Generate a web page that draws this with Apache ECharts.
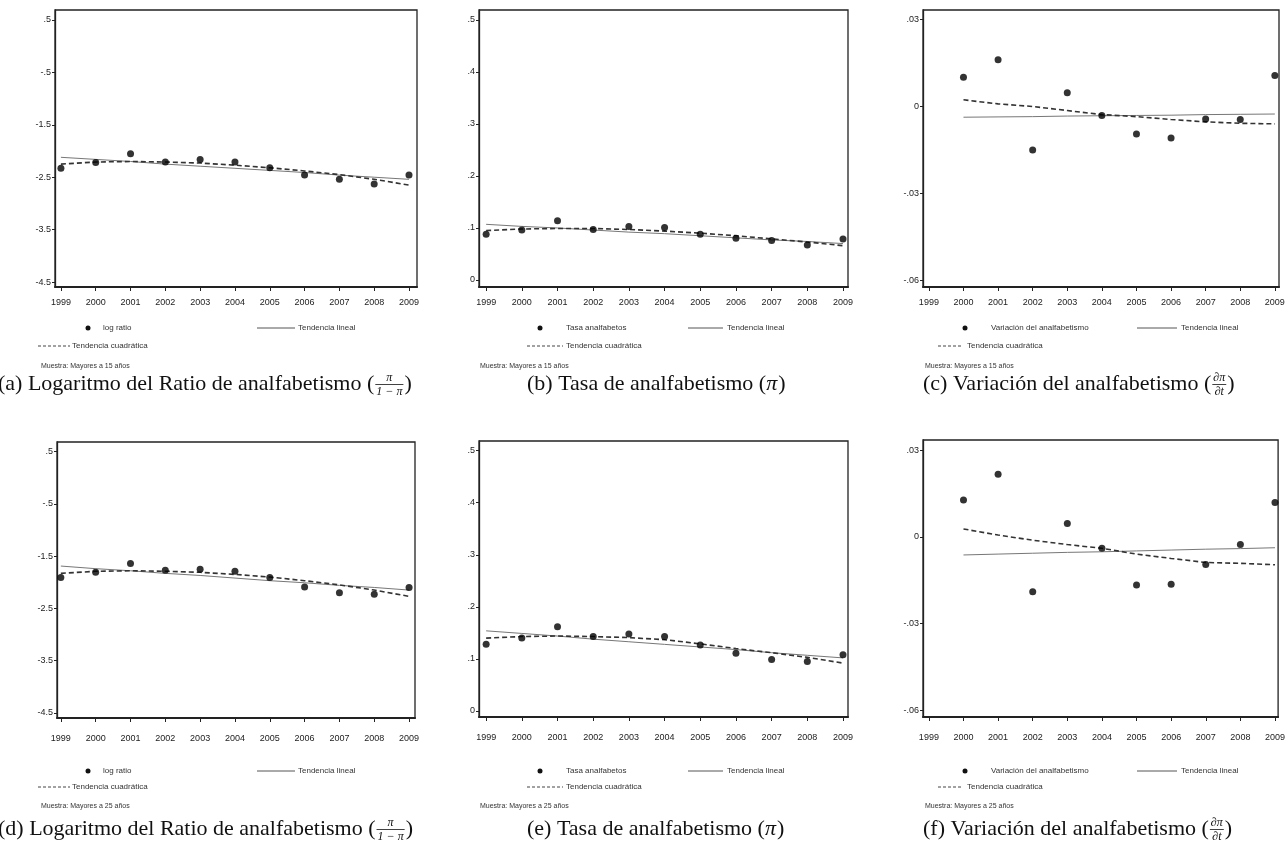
<!DOCTYPE html>
<html>
<head>
<meta charset="utf-8">
<script src="https://cdn.jsdelivr.net/npm/echarts@6/dist/echarts.min.js"></script>
<style>
html,body{margin:0;padding:0;background:#fff;}
#chart{width:1288px;height:855px;}
</style>
</head>
<body>
<div id="chart"></div>
<script>
// ---------------- DATA ----------------
const years = [1999, 2000, 2001, 2002, 2003, 2004, 2005, 2006, 2007, 2008, 2009];

const yTicksLog = [-4.5, -3.5, -2.5, -1.5, -0.5, 0.5];
const yLabelsLog = ['-4.5', '-3.5', '-2.5', '-1.5', '-.5', '.5'];
const yTicksTasa = [0, 0.1, 0.2, 0.3, 0.4, 0.5];
const yLabelsTasa = ['0', '.1', '.2', '.3', '.4', '.5'];
const yTicksVar = [-0.06, -0.03, 0, 0.03];
const yLabelsVar = ['-.06', '-.03', '0', '.03'];

// (a) Mayores a 15 años – log ratio
const logRatio15 = [-2.33, -2.22, -2.05, -2.21, -2.16, -2.21, -2.32, -2.46, -2.54, -2.63, -2.46];
const logRatio15Lin = [-2.12, -2.16, -2.20, -2.25, -2.29, -2.33, -2.37, -2.41, -2.46, -2.50, -2.54];
const logRatio15Quad = [-2.25, -2.21, -2.20, -2.21, -2.23, -2.27, -2.32, -2.38, -2.45, -2.54, -2.65];
// (b) Mayores a 15 años – tasa
const tasa15 = [0.088, 0.096, 0.114, 0.097, 0.103, 0.101, 0.088, 0.080, 0.076, 0.067, 0.079];
const tasa15Lin = [0.107, 0.103, 0.100, 0.096, 0.092, 0.089, 0.085, 0.081, 0.077, 0.074, 0.070];
const tasa15Quad = [0.095, 0.098, 0.099, 0.099, 0.097, 0.094, 0.090, 0.085, 0.079, 0.073, 0.066];
// (c) Mayores a 15 años – variación
const var15 = [null, 0.0100, 0.0160, -0.0151, 0.0046, -0.0032, -0.0096, -0.0110, -0.0044, -0.0046, 0.0106];
const var15Lin = [null, -0.0038, -0.0037, -0.0036, -0.0034, -0.0033, -0.0032, -0.0031, -0.0029, -0.0028, -0.0027];
const var15Quad = [null, 0.0022, 0.0008, -0.0001, -0.0015, -0.0029, -0.0036, -0.0046, -0.0054, -0.0059, -0.0061];
// (d) Mayores a 25 años – log ratio
const logRatio25 = [-1.91, -1.81, -1.64, -1.77, -1.75, -1.79, -1.91, -2.09, -2.20, -2.23, -2.10];
const logRatio25Lin = [-1.69, -1.74, -1.78, -1.83, -1.87, -1.92, -1.97, -2.01, -2.06, -2.10, -2.15];
const logRatio25Quad = [-1.83, -1.79, -1.78, -1.79, -1.81, -1.85, -1.90, -1.97, -2.05, -2.15, -2.27];
// (e) Mayores a 25 años – tasa
const tasa25 = [0.128, 0.140, 0.162, 0.143, 0.148, 0.143, 0.127, 0.111, 0.099, 0.095, 0.108];
const tasa25Lin = [0.154, 0.149, 0.144, 0.138, 0.133, 0.128, 0.123, 0.118, 0.112, 0.107, 0.102];
const tasa25Quad = [0.140, 0.143, 0.144, 0.143, 0.141, 0.137, 0.129, 0.120, 0.112, 0.103, 0.092];
// (f) Mayores a 25 años – variación
const var25 = [null, 0.0127, 0.0216, -0.0190, 0.0046, -0.0040, -0.0167, -0.0164, -0.0096, -0.0027, 0.0119];
const var25Lin = [null, -0.0063, -0.0060, -0.0057, -0.0054, -0.0052, -0.0049, -0.0046, -0.0043, -0.0041, -0.0038];
const var25Quad = [null, 0.0027, 0.0006, -0.0012, -0.0027, -0.0040, -0.0060, -0.0075, -0.0089, -0.0092, -0.0097];

const nameLog = 'log ratio';
const nameTasa = 'Tasa analfabetos';
const nameVar = 'Variación del analfabetismo';
const nameLin = 'Tendencia lineal';
const nameQuad = 'Tendencia cuadrática';
const muestra15 = 'Muestra: Mayores a 15 años';
const muestra25 = 'Muestra: Mayores a 25 años';

// ---------------- LAYOUT ----------------
const NARROW = '"Liberation Sans Narrow", "Liberation Sans", Arial, sans-serif';
const SERIF = '"Liberation Serif", "Times New Roman", serif';
const INK = '#222';

const panels = [
  { grid: {left: 55, top: 10, width: 362, height: 277}, xr: [1998.83, 2009.23], yr: [-4.595, 0.691], lm: 11,
    ticks: yTicksLog, labels: yLabelsLog, pts: logRatio15, lin: logRatio15Lin, quad: logRatio15Quad, name: nameLog },
  { grid: {left: 479, top: 10, width: 369, height: 277}, xr: [1998.80, 2009.14], yr: [-0.0135, 0.519], lm: 11,
    ticks: yTicksTasa, labels: yLabelsTasa, pts: tasa15, lin: tasa15Lin, quad: tasa15Quad, name: nameTasa },
  { grid: {left: 923, top: 10, width: 356, height: 277}, xr: [1998.83, 2009.12], yr: [-0.0624, 0.0332], lm: 11,
    ticks: yTicksVar, labels: yLabelsVar, pts: var15, lin: var15Lin, quad: var15Quad, name: nameVar },
  { grid: {left: 57, top: 442, width: 358, height: 276}, xr: [1998.89, 2009.17], yr: [-4.60, 0.686], lm: 16,
    ticks: yTicksLog, labels: yLabelsLog, pts: logRatio25, lin: logRatio25Lin, quad: logRatio25Quad, name: nameLog },
  { grid: {left: 479, top: 441, width: 369, height: 276}, xr: [1998.80, 2009.14], yr: [-0.0115, 0.5186], lm: 16,
    ticks: yTicksTasa, labels: yLabelsTasa, pts: tasa25, lin: tasa25Lin, quad: tasa25Quad, name: nameTasa },
  { grid: {left: 923, top: 440, width: 356, height: 277}, xr: [1998.83, 2009.09], yr: [-0.0624, 0.0335], lm: 16,
    ticks: yTicksVar, labels: yLabelsVar, pts: var25, lin: var25Lin, quad: var25Quad, name: nameVar }
];

function pairs(vals) {
  const out = [];
  years.forEach((y, i) => { if (vals[i] !== null && vals[i] !== undefined) out.push([y, vals[i]]); });
  return out;
}

const grids = [], xAxes = [], yAxes = [], series = [];
panels.forEach((p, k) => {
  grids.push(Object.assign({show: true, borderColor: INK, borderWidth: 1.3, backgroundColor: '#fff'}, p.grid));
  xAxes.push({
    gridIndex: k, type: 'value', min: p.xr[0], max: p.xr[1],
    axisLine: {show: true, onZero: false, lineStyle: {color: INK, width: 2}},
    axisTick: {show: true, customValues: years, length: 4, lineStyle: {color: INK, width: 1}},
    axisLabel: {customValues: years, formatter: v => String(Math.round(v)), fontSize: 9, fontFamily: NARROW, color: '#222', margin: p.lm},
    splitLine: {show: false}
  });
  yAxes.push({
    gridIndex: k, type: 'value', min: p.yr[0], max: p.yr[1],
    axisLine: {show: true, onZero: false, lineStyle: {color: INK, width: 1.3}},
    axisTick: {show: true, customValues: p.ticks, length: 3, lineStyle: {color: INK, width: 1}},
    axisLabel: {
      customValues: p.ticks, fontSize: 9, fontFamily: NARROW, color: '#222', margin: 4,
      formatter: v => { const i = p.ticks.findIndex(t => Math.abs(t - v) < 1e-9); return i >= 0 ? p.labels[i] : ''; }
    },
    splitLine: {show: false}
  });
  series.push({
    name: p.name, type: 'scatter', xAxisIndex: k, yAxisIndex: k, data: pairs(p.pts),
    symbol: 'circle', symbolSize: 7, itemStyle: {color: '#000'}, z: 5
  });
  series.push({
    name: nameLin, type: 'line', xAxisIndex: k, yAxisIndex: k, data: pairs(p.lin),
    showSymbol: false, lineStyle: {color: '#777', width: 1}, z: 3
  });
  series.push({
    name: nameQuad, type: 'line', xAxisIndex: k, yAxisIndex: k, data: pairs(p.quad),
    showSymbol: false, lineStyle: {color: '#333', width: 1.6, type: [5, 3]}, z: 4
  });
});

// ---------------- legends / notes / captions (graphics) ----------------
const g = [];
const legFont = '8px ' + NARROW;
function txt(x, y, s, font, align, fill) {
  g.push({type: 'text', x: x, y: y, silent: true,
    style: {text: s, font: font, fill: fill || '#333', textAlign: align || 'left', textVerticalAlign: 'middle'}});
}
function seg(x1, x2, y, dash, color, w) {
  g.push({type: 'line', silent: true, shape: {x1: x1, y1: y, x2: x2, y2: y},
    style: {stroke: color, lineWidth: w, lineDash: dash || null}});
}
function dot(x, y) {
  g.push({type: 'circle', silent: true, shape: {cx: x, cy: y, r: 2.5}, style: {fill: '#111'}});
}
const legendLayout = [
  {row: [328, 346, 366], dot: 88, txt1: 103, lin: [257, 295], txt2: 298, dash: [38, 70], txt3: 72, note: 41, name: nameLog, m: muestra15},
  {row: [328, 346, 366], dot: 540, txt1: 566, lin: [688, 723], txt2: 727, dash: [527, 563], txt3: 566, note: 480, name: nameTasa, m: muestra15},
  {row: [328, 346, 366], dot: 965, txt1: 991, lin: [1137, 1177], txt2: 1181, dash: [938, 963], txt3: 967, note: 925, name: nameVar, m: muestra15},
  {row: [771, 787, 806], dot: 88, txt1: 103, lin: [257, 295], txt2: 298, dash: [38, 70], txt3: 72, note: 41, name: nameLog, m: muestra25},
  {row: [771, 787, 806], dot: 540, txt1: 566, lin: [688, 723], txt2: 727, dash: [527, 563], txt3: 566, note: 480, name: nameTasa, m: muestra25},
  {row: [771, 787, 806], dot: 965, txt1: 991, lin: [1137, 1177], txt2: 1181, dash: [938, 963], txt3: 967, note: 925, name: nameVar, m: muestra25}
];
legendLayout.forEach(L => {
  dot(L.dot, L.row[0]);
  txt(L.txt1, L.row[0], L.name, legFont);
  seg(L.lin[0], L.lin[1], L.row[0], null, '#555', 1);
  txt(L.txt2, L.row[0], nameLin, legFont);
  seg(L.dash[0], L.dash[1], L.row[1], [3, 2], '#444', 1);
  txt(L.txt3, L.row[1], nameQuad, legFont);
  txt(L.note, L.row[2], L.m, '7px ' + NARROW);
});

// captions
const CAP = 22;
const CAPC = '#111';
const capFont = CAP + 'px ' + SERIF;
const fracFont = 'italic 12px ' + SERIF;
const meas = document.createElement('canvas').getContext('2d');
function width(s, font) { meas.font = font; return meas.measureText(s).width; }
function captionFrac(x, y, prefix, num, den) {
  txt(x, y, prefix, capFont, 'left', CAPC);
  const fx = x + width(prefix, capFont) + 1;
  const fw = Math.max(width(num, fracFont), width(den, fracFont)) + 2;
  g.push({type: 'text', x: fx + fw / 2, y: y - 6, silent: true,
    style: {text: num, font: fracFont, fill: CAPC, textAlign: 'center', textVerticalAlign: 'middle'}});
  seg(fx, fx + fw, y + 0.5, null, CAPC, 0.8);
  g.push({type: 'text', x: fx + fw / 2, y: y + 7.5, silent: true,
    style: {text: den, font: fracFont, fill: CAPC, textAlign: 'center', textVerticalAlign: 'middle'}});
  txt(fx + fw + 1, y, ')', capFont, 'left', CAPC);
}
function captionPi(x, y, prefix) {
  txt(x, y, prefix, capFont, 'left', CAPC);
  const px = x + width(prefix, capFont);
  const piFont = 'italic ' + CAP + 'px ' + SERIF;
  txt(px, y, 'π', piFont, 'left', CAPC);
  txt(px + width('π', piFont) + 1, y, ')', capFont, 'left', CAPC);
}
captionFrac(-2, 384, '(a) Logaritmo del Ratio de analfabetismo (', 'π', '1 − π');
captionPi(527, 384, '(b) Tasa de analfabetismo (');
captionFrac(923, 384, '(c) Variación del analfabetismo (', '∂π', '∂t');
captionFrac(-2, 829, '(d) Logaritmo del Ratio de analfabetismo (', 'π', '1 − π');
captionPi(527, 829, '(e) Tasa de analfabetismo (');
captionFrac(923, 829, '(f) Variación del analfabetismo (', '∂π', '∂t');

const chart = echarts.init(document.getElementById('chart'), null, {renderer: 'canvas'});
chart.setOption({
  animation: false,
  backgroundColor: '#fff',
  grid: grids,
  xAxis: xAxes,
  yAxis: yAxes,
  series: series,
  graphic: {elements: g}
});
</script>
</body>
</html>
